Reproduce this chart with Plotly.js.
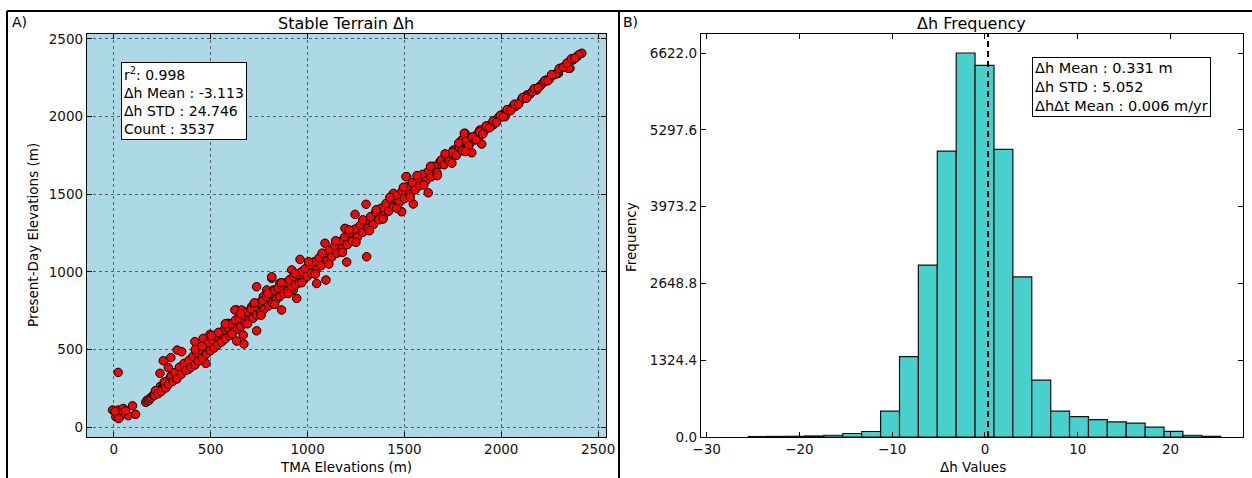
<!DOCTYPE html>
<html>
<head>
<meta charset="utf-8">
<script src="https://cdn.plot.ly/plotly-3.0.1.min.js"></script>
<style>html,body{margin:0;padding:0;background:#fff;}#chart{width:1252px;height:478px;}</style>
</head>
<body>
<div id="chart"></div>
<script>
// ---- Panel A data: TMA elevation vs present-day elevation (m) ----
const tmaElev = [
 -7,22,31,10,74,96,112,48,40,18,5,22,25,60,
 165,170,180,186,195,203,210,222,230,241,250,255,262,270,278,285,290,300,
 238,255,294,281,327,350,320,358,384,418,444,475,461,496,522,547,565,590,625,634,668,671,634,685,737,737,720,780,789,823,866,815,857,909,926,944,
 310,320,330,340,345,355,365,375,385,395,405,410,420,430,440,450,460,470,480,490,500,510,520,530,540,550,560,570,580,590,600,610,620,630,640,650,660,670,680,690,700,710,720,730,740,750,760,770,780,790,800,810,820,830,840,850,860,870,880,890,900,910,920,930,940,950,
 625,815,961,918,978,1047,1095,1090,1202,1305,1245,1193,1302,1357,1443,1546,1512,1623,1649,1486,1150,1047,892,823,771,711,660,
 960,975,990,1000,1010,1025,1040,1055,1065,1080,1095,1110,1120,1135,1150,1165,1180,1195,1210,1220,1235,1250,1265,1280,1290,1305,1320,1335,1350,1365,1380,1395,1410,1425,1440,1455,1470,1485,1500,1515,1530,1545,1560,1575,1590,1605,1620,1640,1660,1680,1700,
 1684,1508,1606,1735,1753,1796,1813,1839,1848,1882,1890,1925,1959,1977,2019,2011,2045,2088,2106,2132,2183,2235,2295,2329,2355,2372,2416,1809,1899,2295,2347,
 1720,1740,1760,1775,1790,1805,1820,1835,1850,1865,1880,1900,1915,1930,1950,1965,1985,2000,2025,2060,2075,2120,2150,2160,2200,2215,2250,2265,2280,2310,2390,2400,
 215,228,245,260,268,282,295,305,315,325,338,348,362,372,388,398,408,418,428,436,448,458,466,478,488,498,506,518,528,536,548,556,568,576,588,598,
 605,615,628,638,648,656,668,678,688,696,708,718,728,738,748,758,768,776,788,798,808,818,828,838,848,858,868,878,888,898,908,918,928,938,948,958,968,978,988,998,
 1010,1020,1035,1045,1060,1070,1085,1100,1112,1125,1140,1152,1168,1178,1192,1205,1215,1230,1245,1258,1272,1285,1298,1312,1325,1340,1352,1368,1380,1392,1405,1418,1432,1445,1460,1472,1488,1500,1515,1528,1540,1555,1568,1580,1595,1610,1625,1638,1652,1668,1690,1705,
 1718,1730,1748,1768,1782,1800,1818,1832,1852,1870,1888,1905,1922,1940,1958,1975,1995,2012,2030,2050,2068,2090,2110,2130,2170,2190,2225,2240,2260,2300,2320,2340,2362,2380,
 420,455,505,540,575,610,655,690,725,760,795,830,865,900,935,970,1005,1040,1075,1110,1145,1180,1215,1250,1285,1320,1355,1390,1425,1460,1495,1530,1565,1600,1635,1670,1710,1745,1780,1815
];
const presentElev = [
 110,110,66,66,73,137,82,120,88,95,100,352,55,105,
 159,172,170,185,192,206,205,226,236,264,250,272,270,290,296,292,318,312,
 346,427,447,382,496,485,324,367,371,550,475,410,571,597,522,550,560,668,646,754,593,535,554,689,620,904,733,786,883,818,754,958,926,947,883,829,
 322,352,338,372,358,392,380,410,388,432,418,402,452,440,468,455,492,478,510,500,540,522,560,548,582,566,610,590,628,600,650,622,668,640,690,664,704,676,722,696,740,712,760,730,772,748,796,768,806,782,830,800,846,812,866,838,882,858,900,874,920,896,936,912,952,938,
 754,968,1080,1012,990,925,947,1184,1063,1097,1370,1280,1435,1355,1505,1437,1613,1509,1677,1387,1140,1055,904,883,840,775,754,
 985,962,1012,992,1028,1018,1056,1048,1082,1068,1112,1098,1138,1126,1166,1150,1194,1186,1220,1208,1252,1238,1282,1270,1310,1296,1330,1350,1340,1382,1372,1410,1402,1440,1426,1470,1456,1500,1490,1526,1518,1560,1548,1586,1580,1620,1608,1652,1640,1692,1700,
 1709,1613,1613,1742,1785,1849,1892,1828,1767,1870,1914,1931,1946,1978,1999,2017,2042,2079,2111,2139,2171,2236,2279,2322,2311,2365,2408,1892,1823,2290,2311,
 1730,1732,1772,1766,1800,1796,1826,1836,1858,1852,1892,1896,1912,1940,1946,1964,1994,1998,2016,2064,2066,2124,2146,2160,2196,2216,2242,2266,2272,2312,2384,2398,
 235,215,230,290,252,275,330,295,350,310,385,340,410,365,430,385,455,400,480,425,500,445,520,470,545,492,565,510,585,530,600,548,625,570,640,590,
 665,612,690,630,700,648,720,668,742,686,760,700,778,722,800,740,815,760,840,780,860,800,878,820,895,842,912,860,930,878,950,895,968,915,985,930,1000,950,1020,970,
 1045,990,1065,1012,1090,1040,1115,1070,1140,1095,1168,1120,1195,1148,1225,1175,1250,1198,1275,1225,1300,1255,1328,1280,1355,1305,1385,1335,1410,1362,1440,1390,1468,1418,1492,1445,1520,1472,1548,1500,1575,1528,1600,1555,1628,1585,1650,1612,1680,1640,1720,1690,
 1745,1712,1770,1750,1808,1780,1840,1812,1870,1850,1902,1888,1940,1928,1972,1962,2008,2000,2045,2040,2080,2082,2122,2118,2180,2185,2232,2230,2270,2310,2318,2345,2372,2378,
 500,520,590,610,665,600,730,665,800,720,860,790,930,860,990,930,1065,985,1120,1050,1200,1125,1270,1190,1335,1265,1400,1340,1480,1410,1545,1480,1620,1560,1680,1620,1760,1700,1830,1775
];
const xTicksA = [0, 500, 1000, 1500, 2000, 2500];
const yTicksA = [0, 500, 1000, 1500, 2000, 2500];

// ---- Panel B data: histogram of Δh ----
const binEdges = [-25.50,-23.46,-21.43,-19.39,-17.36,-15.32,-13.28,-11.25,-9.21,-7.18,-5.14,-3.10,-1.07,0.97,3.00,5.04,7.08,9.11,11.15,13.18,15.22,17.26,19.29,21.33,23.36,25.40];
const binCounts = [8,10,12,18,30,60,95,445,1385,2965,4930,6622,6410,4960,2760,980,445,350,300,260,240,170,98,30,12];
const xTicksB = [-30, -20, -10, 0, 10, 20];
const yTicksB = [0.0, 1324.4, 2648.8, 3973.2, 5297.6, 6622.0];
const meanDh = 0.331;

const statsA = ["r<sup>2</sup>: 0.998", "Δh Mean : -3.113", "Δh STD : 24.746", "Count : 3537"];
const statsB = ["Δh Mean : 0.331 m", "Δh STD : 5.052", "ΔhΔt Mean : 0.006 m/yr"];

const W = 1252, H = 478;
const px = v => v / W;
const py = v => 1 - v / H;
const FONT = "DejaVu Sans, Verdana, sans-serif";

const centers = binCounts.map((c, i) => (binEdges[i] + binEdges[i + 1]) / 2);
const widths = binCounts.map((c, i) => binEdges[i + 1] - binEdges[i]);

const traces = [
  {
    type: "scatter", mode: "markers", x: tmaElev, y: presentElev, xaxis: "x", yaxis: "y",
    marker: {color: "#ff0000", size: 8.5, line: {color: "#000", width: 1}},
    hoverinfo: "skip"
  },
  {
    type: "bar", x: centers, y: binCounts, width: widths, xaxis: "x2", yaxis: "y2",
    marker: {color: "#48d1cc", line: {color: "#111", width: 1.2}},
    hoverinfo: "skip"
  }
];

const axisCommon = {
  showline: true, linecolor: "#000", linewidth: 1.2, mirror: "ticks",
  ticks: "inside", ticklen: 5, tickcolor: "#000", tickwidth: 1,
  zeroline: false, tickfont: {family: FONT, size: 13.5, color: "#111"}
};

const layout = {
  width: W, height: H,
  margin: {l: 0, r: 0, t: 0, b: 0},
  paper_bgcolor: "#fff", plot_bgcolor: "#fff",
  showlegend: false,
  font: {family: FONT, color: "#000"},
  xaxis: Object.assign({}, axisCommon, {
    domain: [px(87), px(606)], range: [-139, 2541], anchor: "y",
    tickmode: "array", tickvals: xTicksA, ticktext: xTicksA.map(String),
    showgrid: true, gridcolor: "rgba(0,0,0,0.55)", griddash: "dot", gridwidth: 1
  }),
  yaxis: Object.assign({}, axisCommon, {
    domain: [py(437), py(34)], range: [-64, 2532], anchor: "x",
    tickmode: "array", tickvals: yTicksA, ticktext: yTicksA.map(String),
    showgrid: true, gridcolor: "rgba(0,0,0,0.55)", griddash: "dot", gridwidth: 1
  }),
  xaxis2: Object.assign({}, axisCommon, {
    domain: [px(701), px(1243)], range: [-30.6, 27.8], anchor: "y2",
    tickmode: "array", tickvals: xTicksB, ticktext: xTicksB.map(v => v < 0 ? "\u2212" + Math.abs(v) : String(v)),
    showgrid: false
  }),
  yaxis2: Object.assign({}, axisCommon, {
    domain: [py(437), py(34)], range: [0, 6950], anchor: "x2",
    tickmode: "array", tickvals: yTicksB, ticktext: yTicksB.map(v => v.toFixed(1)),
    showgrid: false
  }),
  bargap: 0,
  shapes: [
    {type: "rect", xref: "x domain", yref: "y domain", x0: 0, x1: 1, y0: 0, y1: 1,
     fillcolor: "#add8e6", line: {width: 0}, layer: "below"},
    {type: "line", xref: "x2", yref: "y2 domain", x0: meanDh, x1: meanDh, y0: 0, y1: 1,
     line: {color: "#000", width: 2, dash: "6px,4px"}},
    {type: "line", xref: "paper", yref: "paper", x0: px(7), x1: 1, y0: py(11), y1: py(11), line: {color: "#000", width: 2}},
    {type: "line", xref: "paper", yref: "paper", x0: px(7), x1: px(7), y0: py(11), y1: 0, line: {color: "#000", width: 2}},
    {type: "line", xref: "paper", yref: "paper", x0: px(619), x1: px(619), y0: py(11), y1: 0, line: {color: "#000", width: 2}}
  ],
  annotations: [
    {xref: "paper", yref: "paper", x: px(346), y: py(23), text: "Stable Terrain Δh", showarrow: false,
     xanchor: "center", yanchor: "middle", font: {family: FONT, size: 16, color: "#000"}},
    {xref: "paper", yref: "paper", x: px(971), y: py(23), text: "Δh Frequency", showarrow: false,
     xanchor: "center", yanchor: "middle", font: {family: FONT, size: 16, color: "#000"}},
    {xref: "paper", yref: "paper", x: px(19), y: py(22), text: "A)", showarrow: false,
     xanchor: "center", yanchor: "middle", font: {family: FONT, size: 14, color: "#000"}},
    {xref: "paper", yref: "paper", x: px(630), y: py(22), text: "B)", showarrow: false,
     xanchor: "center", yanchor: "middle", font: {family: FONT, size: 14, color: "#000"}},
    {xref: "paper", yref: "paper", x: px(346), y: py(467), text: "TMA Elevations (m)", showarrow: false,
     xanchor: "center", yanchor: "middle", font: {family: FONT, size: 13.5, color: "#000"}},
    {xref: "paper", yref: "paper", x: px(33), y: py(235), text: "Present-Day Elevations (m)", showarrow: false,
     textangle: -90, xanchor: "center", yanchor: "middle", font: {family: FONT, size: 13.5, color: "#000"}},
    {xref: "paper", yref: "paper", x: px(973), y: py(467), text: "Δh Values", showarrow: false,
     xanchor: "center", yanchor: "middle", font: {family: FONT, size: 13.5, color: "#000"}},
    {xref: "paper", yref: "paper", x: px(631), y: py(237), text: "Frequency", showarrow: false,
     textangle: -90, xanchor: "center", yanchor: "middle", font: {family: FONT, size: 13.5, color: "#000"}},
    {xref: "paper", yref: "paper", x: px(121), y: py(62), text: statsA.join("<br>"), showarrow: false,
     xanchor: "left", yanchor: "top", align: "left", bgcolor: "#fff", bordercolor: "#000", borderwidth: 1, borderpad: 2,
     font: {family: FONT, size: 14, color: "#000"}},
    {xref: "paper", yref: "paper", x: px(1032), y: py(57), text: statsB.join("<br>"), showarrow: false,
     xanchor: "left", yanchor: "top", align: "left", bgcolor: "#fff", bordercolor: "#000", borderwidth: 1, borderpad: 2,
     font: {family: FONT, size: 14.5, color: "#000"}}
  ]
};

Plotly.newPlot("chart", traces, layout, {staticPlot: true, displayModeBar: false});
</script>
</body>
</html>
